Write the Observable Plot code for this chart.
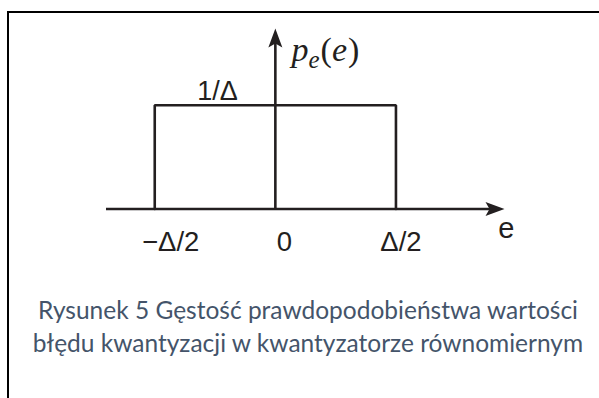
<!DOCTYPE html>
<html>
<head>
<meta charset="utf-8">
<script src="https://cdn.jsdelivr.net/npm/d3@7"></script>
<script src="https://cdn.jsdelivr.net/npm/@observablehq/plot@0.6"></script>
<style>
  html, body { margin: 0; padding: 0; background: #fff; width: 599px; height: 398px; overflow: hidden; }
  #frame { position: absolute; left: 7px; top: 11px; width: 800px; height: 600px;
           border-top: 2px solid #000; border-left: 2px solid #000; }
  #chart { position: absolute; left: 0; top: 0; }
  #caption { position: absolute; left: 0; top: 293px; width: 616px; text-align: center;
             color: #44546A; font-family: Lato, "Open Sans", sans-serif; font-size: 24.5px; line-height: 33px; }
</style>
</head>
<body>
<div id="frame"></div>
<div id="chart"></div>
<div id="caption"></div>
<script>
// Uniform quantization error density: p_e(e) = 1/Δ on [−Δ/2, Δ/2] (Δ = 1)
const pdfE = [-0.5, -0.5, 0.5, 0.5];
const pdfP = [0, 1, 1, 0];
const tickValues = [-0.5, 0, 0.5];
const tickLabels = ["−Δ/2", "0", "Δ/2"];
const levelLabel = "1/Δ";
const densityLabel = ["p", "e", "(", "e", ")"];
const axisLabel = "e";
const eDomain = [-0.7, 0.95];
const pDomain = [0, 1.74];
const captionLines = [
  "Rysunek 5 Gęstość prawdopodobieństwa wartości",
  "błędu kwantyzacji w kwantyzatorze równomiernym"
];

const ink = "#231f20";
const pdf = pdfE.map((e, i) => ({e, p: pdfP[i]}));
const ticks = tickValues.map((e, i) => ({e, label: tickLabels[i]}));

// filled, slightly notched arrowhead pointing right, tip at the origin
const arrowHead = {
  draw(ctx) {
    ctx.moveTo(0, 0);
    ctx.lineTo(-19, -7);
    ctx.lineTo(-15, 0);
    ctx.lineTo(-19, 7);
    ctx.closePath();
  }
};

// small nudges so the tick labels sit like typeset labels
const tickShift = {"−Δ/2": 16, "0": 9, "Δ/2": 5};

const chart = Plot.plot({
  width: 599,
  height: 260,
  marginLeft: 106,
  marginRight: 95,
  marginTop: 28,
  marginBottom: 51.5,
  x: {domain: eDomain, axis: null},
  y: {domain: pDomain, axis: null},
  style: {background: "transparent", overflow: "visible"},
  marks: [
    // horizontal axis with arrow
    Plot.ruleY([0], {x1: eDomain[0], x2: eDomain[1] - 0.04, stroke: ink, strokeWidth: 2.6}),
    Plot.dot([{e: eDomain[1], p: 0}], {x: "e", y: "p", symbol: arrowHead, r: 5, fill: ink, stroke: "none"}),
    // vertical axis with arrow
    Plot.ruleX([0], {y1: 0, y2: pDomain[1] - 0.1, stroke: ink, strokeWidth: 2.6}),
    Plot.dot([{e: 0, p: pDomain[1]}], {x: "e", y: "p", symbol: arrowHead, r: 5, rotate: -90, fill: ink, stroke: "none"}),
    // the rectangular density
    Plot.line(pdf, {x: "e", y: "p", stroke: ink, strokeWidth: 2.6, strokeLinejoin: "miter"}),
    // tick labels
    ...ticks.map(t => Plot.text([t], {
      x: "e", y: () => 0, text: "label", dx: tickShift[t.label], dy: 22.5,
      lineAnchor: "top", fontSize: 27.5, fill: ink, fontFamily: "Liberation Sans, Arial, sans-serif"
    })),
    // level label
    Plot.text([{e: -0.24, p: 1}], {
      x: "e", y: "p", text: () => levelLabel, dy: -5, lineAnchor: "bottom",
      fontSize: 27, fill: ink, fontFamily: "Liberation Sans, Arial, sans-serif"
    }),
    // axis label e
    Plot.text([{e: 0.958, p: 0}], {
      x: "e", y: "p", text: () => axisLabel, dy: 29, lineAnchor: "bottom",
      fontSize: 29, fill: ink, fontFamily: "Liberation Sans, Arial, sans-serif"
    }),
    // density label p_e(e)
    Plot.text([{e: 0.067, p: 1.43}], {
      x: "e", y: "p", text: () => densityLabel.join(""), textAnchor: "start", lineAnchor: "bottom",
      fontSize: 34, fill: ink, fontFamily: "Liberation Serif, Times New Roman, serif"
    })
  ]
});

// typeset p_e(e): italic letters, subscript e, upright parentheses
chart.querySelectorAll("text").forEach(t => {
  if (t.textContent === densityLabel.join("")) {
    t.textContent = "";
    const ns = "http://www.w3.org/2000/svg";
    const span = (s, attrs) => {
      const el = document.createElementNS(ns, "tspan");
      el.textContent = s;
      for (const [k, v] of Object.entries(attrs)) el.setAttribute(k, v);
      return el;
    };
    t.append(
      span(densityLabel[0], {"font-style": "italic"}),
      span(densityLabel[1], {"font-style": "italic", "font-size": "25", dy: "7"}),
      span(densityLabel[2], {dy: "-7", dx: "1"}),
      span(densityLabel[3], {"font-style": "italic"}),
      span(densityLabel[4], {dx: "1"})
    );
  }
});

document.getElementById("chart").append(chart);
document.getElementById("caption").innerHTML = captionLines.join("<br>");
</script>
</body>
</html>
